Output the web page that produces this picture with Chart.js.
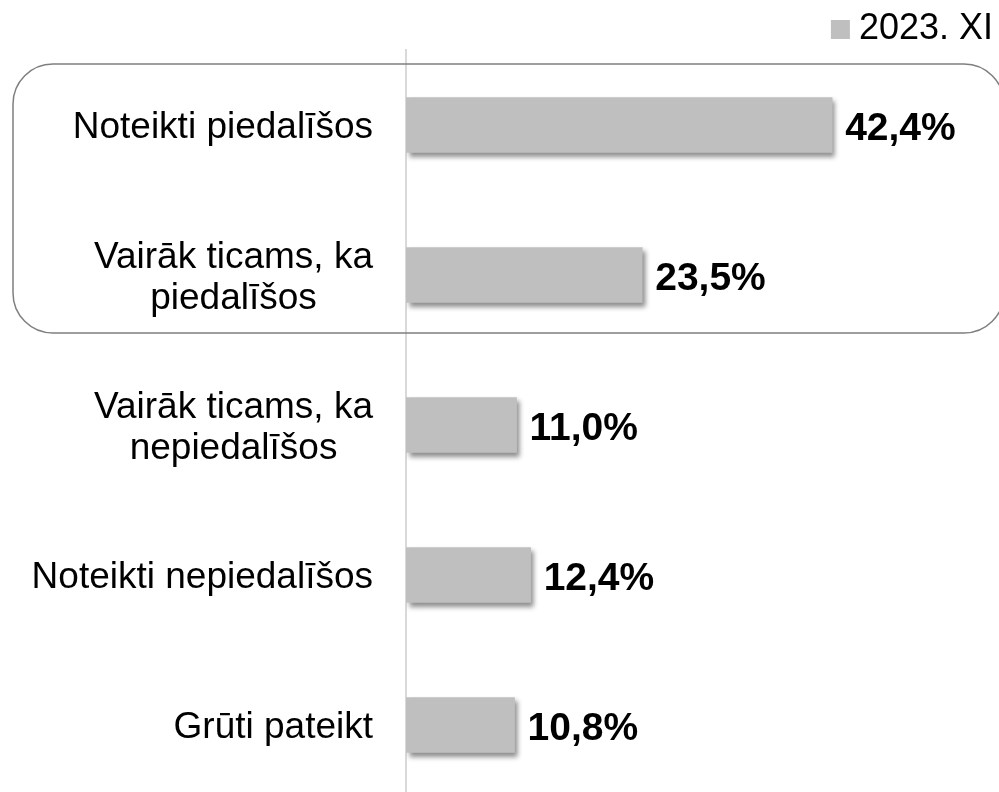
<!DOCTYPE html>
<html>
<head>
<meta charset="utf-8">
<script src="https://cdn.jsdelivr.net/npm/chart.js@4/dist/chart.umd.min.js"></script>
<style>
  html, body { margin: 0; padding: 0; background: #fff; overflow: hidden; }
  #wrap { width: 999px; height: 800px; position: relative; }
</style>
</head>
<body>
<div id="wrap"><canvas id="chart"></canvas></div>
<script>
const categories = [
  ['Noteikti piedalīšos'],
  ['Vairāk ticams, ka', 'piedalīšos'],
  ['Vairāk ticams, ka', 'nepiedalīšos'],
  ['Noteikti nepiedalīšos'],
  ['Grūti pateikt'],
];
const seriesName = '2023. XI';
const values = [42.4, 23.5, 11.0, 12.4, 10.8];
const highlighted = [0, 1]; // categories inside the rounded frame

const FONT = "'Liberation Sans', Arial, sans-serif";
const barColor = '#bfbfbf';

// soft drop shadow under the bars
const shadowPlugin = {
  id: 'shadow',
  beforeDatasetsDraw(chart) {
    const ctx = chart.ctx;
    ctx.save();
    ctx.shadowColor = 'rgba(0,0,0,0.45)';
    ctx.shadowBlur = 5;
    ctx.shadowOffsetX = 3;
    ctx.shadowOffsetY = 4;
  },
  afterDatasetsDraw(chart) {
    chart.ctx.restore();
  }
};

// category labels (lines centred), value labels, legend, frame
const decoPlugin = {
  id: 'deco',
  afterDraw(chart) {
    const ctx = chart.ctx;
    const yScale = chart.scales.y;
    const area = chart.chartArea;
    const meta = chart.getDatasetMeta(0);

    ctx.save();
    ctx.fillStyle = '#000';
    ctx.textBaseline = 'middle';

    // category labels
    ctx.font = '37px ' + FONT;
    ctx.textAlign = 'center';
    const lineH = 41;
    categories.forEach((lines, i) => {
      const maxW = Math.max(...lines.map(l => ctx.measureText(l).width));
      const cx = area.left - 33 - maxW / 2;
      const cy = yScale.getPixelForValue(i) + 3;
      const y0 = cy - (lines.length - 1) * lineH / 2;
      lines.forEach((l, k) => ctx.fillText(l, cx, y0 + k * lineH));
    });

    // value labels
    ctx.font = 'bold 39px ' + FONT;
    ctx.textAlign = 'left';
    meta.data.forEach((bar, i) => {
      ctx.fillText(values[i].toFixed(1).replace('.', ',') + '%', bar.x + 13, bar.y + 4);
    });

    // legend
    ctx.font = '36px ' + FONT;
    ctx.textAlign = 'right';
    const tw = ctx.measureText(seriesName).width;
    const lx = chart.width - 6;
    ctx.fillText(seriesName, lx, 29);
    ctx.fillStyle = barColor;
    ctx.fillRect(lx - tw - 28, 20, 19, 19);

    // rounded frame around highlighted categories
    const half = (yScale.getPixelForValue(1) - yScale.getPixelForValue(0)) / 2;
    const top = yScale.getPixelForValue(highlighted[0]) - half + 14;
    const bottom = yScale.getPixelForValue(highlighted[highlighted.length - 1]) + half - 17;
    ctx.strokeStyle = '#7f7f7f';
    ctx.lineWidth = 1.5;
    ctx.beginPath();
    ctx.roundRect(13, top, chart.width + 5 - 13, bottom - top, 40);
    ctx.stroke();
    ctx.restore();
  }
};

new Chart(document.getElementById('chart'), {
  type: 'bar',
  data: {
    labels: categories,
    datasets: [{
      label: seriesName,
      data: values,
      backgroundColor: barColor,
      borderWidth: 0,
      barThickness: 55,
    }],
  },
  options: {
    indexAxis: 'y',
    responsive: true,
    maintainAspectRatio: false,
    animation: false,
    layout: { padding: { top: 50, right: 0, bottom: 0, left: 0 } },
    plugins: {
      legend: { display: false },
      tooltip: { enabled: false },
    },
    scales: {
      x: {
        display: false,
        min: 0,
        max: 59,
      },
      y: {
        ticks: { display: false },
        grid: { display: false },
        border: { display: true, color: '#d9d9d9', width: 2 },
        afterFit(scale) { scale.width = 406; },
      },
    },
  },
  plugins: [shadowPlugin, decoPlugin],
});
</script>
</body>
</html>
